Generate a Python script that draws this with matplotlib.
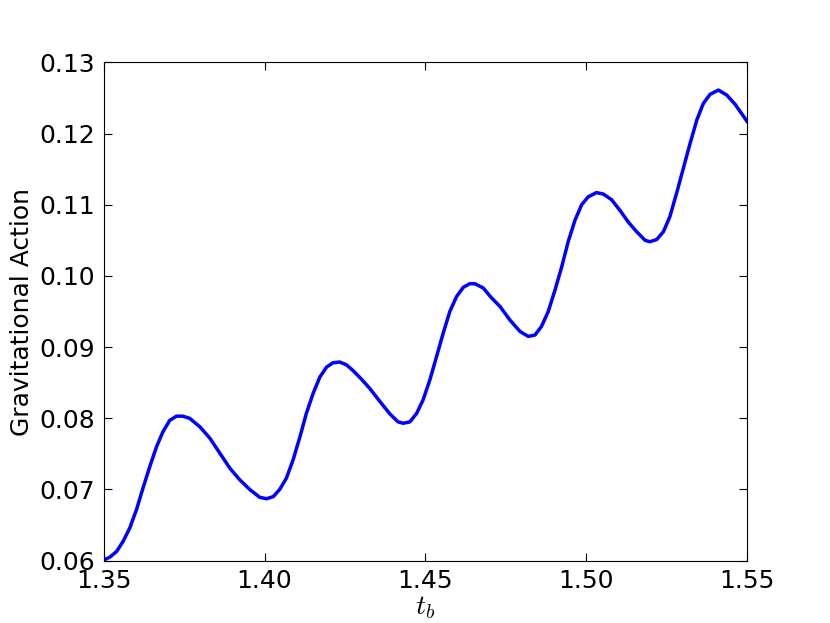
import matplotlib
matplotlib.use("Agg")
import matplotlib.pyplot as plt

# values
t_b = [1.3500, 1.3519, 1.3540, 1.3560, 1.3581, 1.3602, 1.3622, 1.3643, 1.3664,
       1.3684, 1.3705, 1.3726, 1.3745, 1.3767, 1.3799, 1.3830, 1.3861, 1.3892,
       1.3922, 1.3954, 1.3985, 1.4006, 1.4027, 1.4047, 1.4068, 1.4089, 1.4110,
       1.4130, 1.4151, 1.4172, 1.4193, 1.4213, 1.4234, 1.4255, 1.4275, 1.4299,
       1.4327, 1.4358, 1.4390, 1.4415, 1.4431, 1.4452, 1.4473, 1.4493, 1.4514,
       1.4535, 1.4555, 1.4576, 1.4597, 1.4618, 1.4638, 1.4654, 1.4680, 1.4704,
       1.4732, 1.4763, 1.4794, 1.4820, 1.4841, 1.4861, 1.4882, 1.4903, 1.4924,
       1.4944, 1.4965, 1.4986, 1.5006, 1.5032, 1.5053, 1.5079, 1.5105, 1.5132,
       1.5157, 1.5183, 1.5198, 1.5219, 1.5240, 1.5260, 1.5281, 1.5302, 1.5323,
       1.5344, 1.5364, 1.5385, 1.5411, 1.5437, 1.5463, 1.5491, 1.5500]
action = [0.0601, 0.0605, 0.0613, 0.0627, 0.0646, 0.0672, 0.0702, 0.0732, 0.0760,
          0.0781, 0.0797, 0.0803, 0.0803, 0.0800, 0.0788, 0.0772, 0.0751, 0.0730,
          0.0714, 0.0700, 0.0689, 0.0687, 0.0690, 0.0700, 0.0716, 0.0742, 0.0774,
          0.0807, 0.0835, 0.0858, 0.0872, 0.0878, 0.0879, 0.0875, 0.0867, 0.0856,
          0.0842, 0.0824, 0.0806, 0.0795, 0.0793, 0.0795, 0.0807, 0.0826, 0.0854,
          0.0887, 0.0919, 0.0950, 0.0971, 0.0984, 0.0989, 0.0989, 0.0983, 0.0970,
          0.0957, 0.0938, 0.0922, 0.0915, 0.0917, 0.0929, 0.0950, 0.0980, 0.1013,
          0.1048, 0.1078, 0.1100, 0.1111, 0.1117, 0.1115, 0.1107, 0.1092, 0.1075,
          0.1062, 0.1050, 0.1048, 0.1051, 0.1062, 0.1083, 0.1116, 0.1151, 0.1186,
          0.1219, 0.1242, 0.1255, 0.1261, 0.1254, 0.1241, 0.1223, 0.1217]

x_ticks = [1.35, 1.40, 1.45, 1.50, 1.55]
y_ticks = [0.06, 0.07, 0.08, 0.09, 0.10, 0.11, 0.12, 0.13]

plt.rcParams['mathtext.fontset'] = 'cm'

fig = plt.figure(figsize=(8.3, 6.23), dpi=100)
ax = fig.add_axes([0.125, 0.1, 0.775, 0.8])
ax.plot(t_b, action, color='b', linewidth=2.5)

ax.set_xlim(1.35, 1.55)
ax.set_ylim(0.06, 0.13)
ax.set_xticks(x_ticks)
ax.set_yticks(y_ticks)
ax.set_xticklabels(['%.2f' % v for v in x_ticks])
ax.set_yticklabels(['%.2f' % v for v in y_ticks])
ax.tick_params(direction='in', top=True, right=True, length=6, labelsize=18, pad=6)

ax.set_xlabel(r'$t_b$', fontsize=20, labelpad=0)
ax.set_ylabel('Gravitational Action', fontsize=18)

fig.savefig('out.png', dpi=100)
